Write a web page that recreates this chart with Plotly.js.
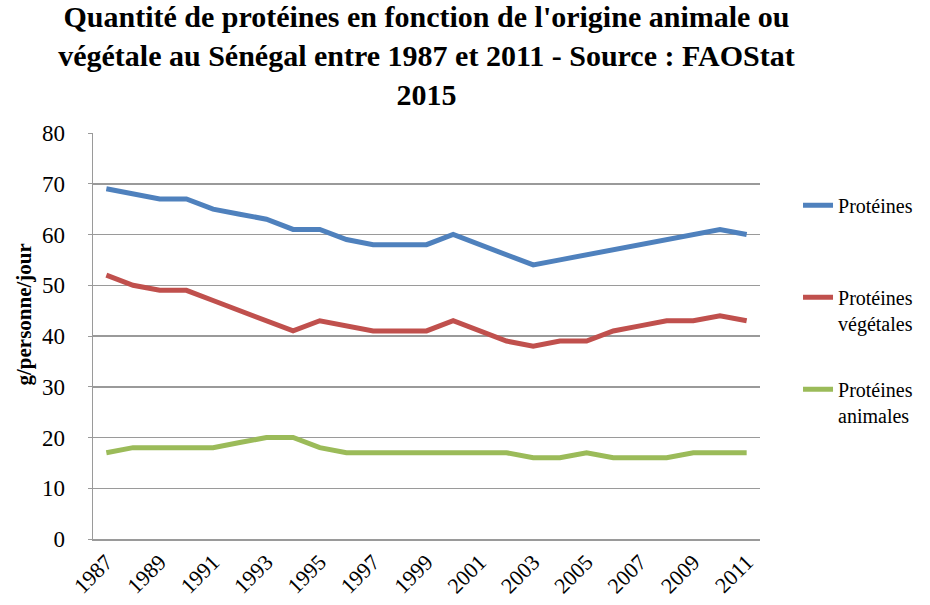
<!DOCTYPE html>
<html>
<head>
<meta charset="utf-8">
<script src="https://cdn.plot.ly/plotly-3.0.1.min.js"></script>
<style>html,body{margin:0;padding:0;background:#fff;}#chart{width:930px;height:605px;}</style>
</head>
<body>
<div id="chart"></div>
<script>
const years = ["1987","1988","1989","1990","1991","1992","1993","1994","1995","1996","1997","1998","1999","2000","2001","2002","2003","2004","2005","2006","2007","2008","2009","2010","2011"];
const proteines = [69,68,67,67,65,64,63,61,61,59,58,58,58,60,58,56,54,55,56,57,58,59,60,61,60];
const vegetales = [52,50,49,49,47,45,43,41,43,42,41,41,41,43,41,39,38,39,39,41,42,43,43,44,43];
const animales = [17,18,18,18,18,19,20,20,18,17,17,17,17,17,17,17,16,16,17,16,16,16,17,17,17];
const seriesNames = ["Protéines<br>&nbsp;", "Protéines<br>végétales", "Protéines<br>animales"];
const yTitle = "g/personne/jour";
const tickYears = years.filter((y, i) => i % 2 === 0);

const colors = ["#4F81BD", "#C0504D", "#9BBB59"];
const data = [proteines, vegetales, animales].map((vals, i) => ({
  type: "scatter", mode: "lines", x: years, y: vals, name: seriesNames[i],
  legendgroup: "g" + i,
  line: {color: colors[i], width: 5}
}));

const serif = "Liberation Serif";
const layout = {
  width: 930, height: 605,
  margin: {l: 93, r: 164, t: 133, b: 66},
  paper_bgcolor: "#fff", plot_bgcolor: "#fff",
  font: {family: serif, color: "#000"},
  title: {
    text: "<b>Quantité de protéines en fonction de l'origine animale ou<br>végétale au Sénégal entre 1987 et 2011 - Source : FAOStat<br>2015</b>",
    font: {family: serif, size: 30, color: "#000"},
    x: 0.5, xref: "paper", xanchor: "center",
    y: 0.955, yanchor: "top"
  },
  xaxis: {
    type: "category", range: [-0.5, 24.5],
    tickmode: "array", tickvals: tickYears, ticktext: tickYears,
    tickangle: -45, tickfont: {family: serif, size: 22},
    showgrid: false, zeroline: false,
    showline: true, linecolor: "#9a9a9a", linewidth: 1.5,
    ticks: "", fixedrange: true
  },
  yaxis: {
    range: [0, 80], dtick: 10,
    tickfont: {family: serif, size: 23},
    ticklabelstandoff: 18,
    showgrid: true, gridcolor: "#9a9a9a", gridwidth: 1.5,
    showline: true, linecolor: "#9a9a9a", linewidth: 1.5,
    ticks: "outside", ticklen: 4, tickcolor: "#9a9a9a",
    zeroline: false
  },
  annotations: [{
    text: "<b>" + yTitle + "</b>", textangle: -90,
    xref: "paper", yref: "paper", x: -0.104, y: 0.552,
    xanchor: "center", yanchor: "middle", showarrow: false,
    font: {family: serif, size: 21, color: "#000"}
  }],
  legend: {
    x: 1.057, xanchor: "left", y: 0.87, yanchor: "top",
    font: {family: serif, size: 20},
    tracegroupgap: 37, valign: "top",
    bgcolor: "rgba(0,0,0,0)"
  },
  showlegend: true
};

Plotly.newPlot("chart", data, layout, {displayModeBar: false, staticPlot: true});
</script>
</body>
</html>
